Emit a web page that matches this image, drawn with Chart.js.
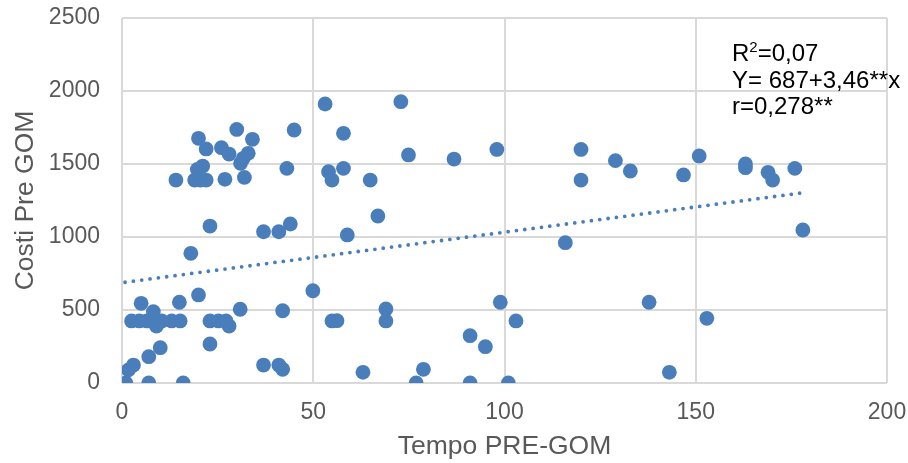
<!DOCTYPE html>
<html>
<head>
<meta charset="utf-8">
<script src="https://cdn.jsdelivr.net/npm/chart.js@4.4.1/dist/chart.umd.min.js"></script>
<style>
html,body{margin:0;padding:0;background:#fff;}
#wrap{width:908px;height:463px;}
</style>
</head>
<body>
<div id="wrap"><canvas id="c" width="908" height="463"></canvas></div>
<script>
// Tempo PRE-GOM (x) values
const tempo = [
  1, 1.7, 3, 7, 16, 7, 10,
  2.5, 4.5, 6.5, 8.2, 10.4, 13, 15.2,
  5, 8.2, 9, 15, 20, 23, 25.2, 27.2, 28, 23, 30.9,
  18, 23, 14.1, 19, 20.5, 22, 19.7, 21.1, 20, 22, 26, 28, 30, 34.1, 33, 31.7, 31,
  26.9, 32, 45, 43.1, 37, 41, 44, 42, 37, 41, 42,
  49.9, 54.9, 56.2, 69, 69, 63, 78.8, 76.9, 91, 91, 95, 101, 98.9, 103,
  53.1, 72.9, 57.9, 74.9, 86.8, 54, 54.9, 57.9, 64.9, 66.9, 58.9,
  98, 120, 120, 129, 132.9, 115.9, 137.8,
  146.8, 150.9, 163, 163, 168.9, 170.1, 175.9, 178, 152.9, 143.1
];
// Costi Pre GOM (y) values
const costi = [
  0, 90, 123, 0, 0, 180, 242,
  425, 425, 425, 425, 425, 425, 425,
  546, 488, 390, 553, 603, 425, 425, 425, 390, 267, 505,
  888, 1075, 1390, 1390, 1390, 1390, 1463, 1486, 1676, 1603, 1612, 1568, 1737, 1669, 1573, 1539, 1505,
  1395, 1408, 1733, 1470, 1036, 1036, 1089, 495, 123, 123, 94,
  632, 425, 427, 507, 425, 73, 94, 0, 324, 0, 249, 0, 553, 425,
  1911, 1927, 1710, 1562, 1534, 1447, 1390, 1470, 1390, 1144, 1014,
  1600, 1600, 1390, 1523, 1452, 961, 553,
  1425, 1555, 1500, 1475, 1443, 1390, 1470, 1048, 443, 73
];
// Trendline endpoints
const trendX = [0.8, 177.2];
const trendY = [690, 1300];
// Axis ticks
const xTicks = [0, 50, 100, 150, 200];
const yTicks = [0, 500, 1000, 1500, 2000, 2500];
// Texts
const xTitle = 'Tempo PRE-GOM';
const yTitle = 'Costi Pre GOM';
const annotLines = ['=0,07', 'Y= 687+3,46**x', 'r=0,278**'];

const FONT = '"Liberation Sans", Arial, sans-serif';
const BLUE = '#4A7EBB';
const GRID = '#d9d9d9';

const points = tempo.map((x, i) => ({x: x, y: costi[i]}));
const trend = trendX.map((x, i) => ({x: x, y: trendY[i]}));

const annotPlugin = {
  id: 'annot',
  afterDraw(chart) {
    const ctx = chart.ctx;
    ctx.save();
    ctx.fillStyle = '#000000';
    ctx.textBaseline = 'alphabetic';
    ctx.textAlign = 'left';
    const x0 = 732;
    let x = x0;
    ctx.font = '24px ' + FONT;
    ctx.fillText('R', x, 61);
    x += ctx.measureText('R').width;
    ctx.font = '15px ' + FONT;
    ctx.fillText('2', x, 52);
    x += ctx.measureText('2').width;
    ctx.font = '24px ' + FONT;
    ctx.fillText(annotLines[0], x, 61);
    ctx.fillText(annotLines[1], x0, 87.5);
    ctx.fillText(annotLines[2], x0, 114);
    ctx.restore();
  }
};

new Chart(document.getElementById('c'), {
  type: 'scatter',
  data: {
    datasets: [
      {
        label: 'dati',
        data: points,
        backgroundColor: BLUE,
        borderColor: BLUE,
        pointRadius: 7.4,
        pointBorderWidth: 0,
        pointHoverRadius: 7.4,
        order: 2
      },
      {
        label: 'trend',
        data: trend,
        showLine: true,
        borderColor: BLUE,
        borderWidth: 3.8,
        borderDash: [0, 8.4],
        borderCapStyle: 'round',
        pointRadius: 0,
        fill: false,
        order: 1
      }
    ]
  },
  options: {
    responsive: false,
    animation: false,
    events: [],
    layout: {padding: {top: 18, right: 21, left: 0, bottom: 0}},
    plugins: {legend: {display: false}, tooltip: {enabled: false}},
    scales: {
      x: {
        type: 'linear',
        min: 0, max: 200,
        afterBuildTicks: (s) => { s.ticks = xTicks.map(v => ({value: v})); },
        afterFit: (s) => { s.height = 80; s.paddingLeft = 0; s.paddingRight = 0; },
        ticks: {font: {family: FONT, size: 23}, color: '#595959', padding: 16, callback: (v) => String(v)},
        grid: {color: GRID, lineWidth: 2, drawTicks: false},
        border: {display: false},
        title: {display: true, text: xTitle, font: {family: FONT, size: 26.5}, color: '#595959', padding: {top: 0, bottom: 0}}
      },
      y: {
        type: 'linear',
        min: 0, max: 2500,
        afterBuildTicks: (s) => { s.ticks = yTicks.map(v => ({value: v})); },
        afterFit: (s) => { s.width = 122; s.paddingTop = 0; s.paddingBottom = 0; },
        ticks: {font: {family: FONT, size: 23}, color: '#595959', padding: 22, callback: (v) => String(v)},
        grid: {color: GRID, lineWidth: 2, drawTicks: false},
        border: {display: false},
        title: {display: true, text: yTitle, font: {family: FONT, size: 26.5}, color: '#595959', padding: {top: 9.5, bottom: 0}}
      }
    }
  },
  plugins: [annotPlugin]
});
</script>
</body>
</html>
